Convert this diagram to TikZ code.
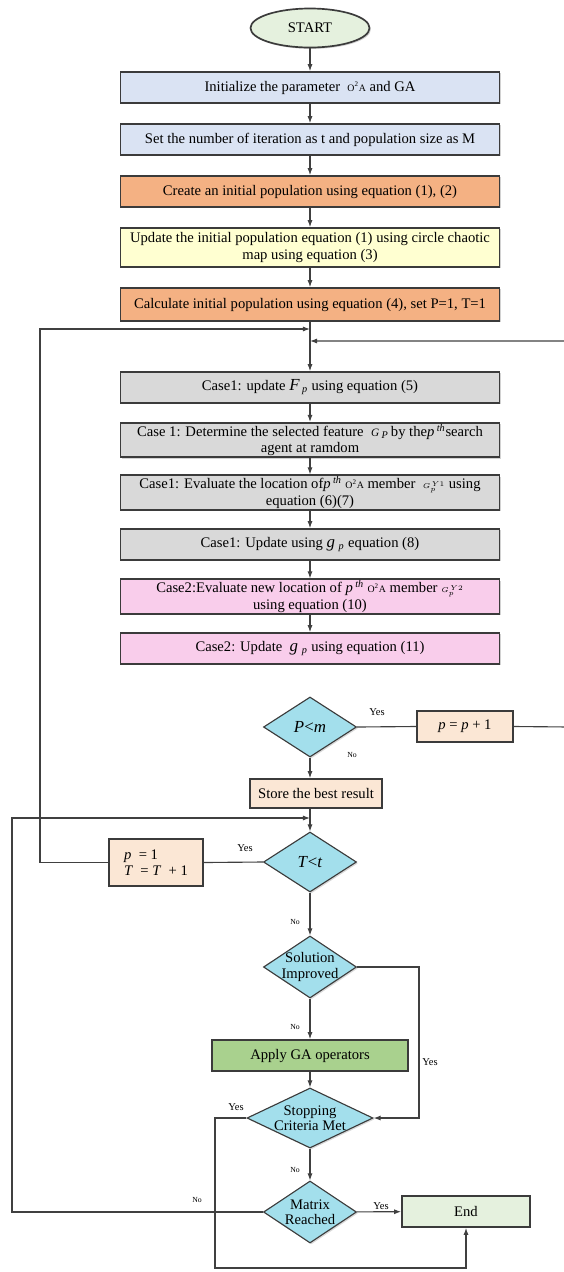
\documentclass[tikz,border=0pt]{standalone}
\usepackage{fontspec}
\setmainfont{Liberation Serif}
\usepackage{xcolor}
\usepackage{tikz}
\usetikzlibrary{arrows.meta, positioning, shapes.geometric, shadows}
\definecolor{bleuciel}{HTML}{DAE3F3}
\definecolor{orangee}{HTML}{F4B183}
\definecolor{jaunepale}{HTML}{FFFFD1}
\definecolor{gris}{HTML}{D9D9D9}
\definecolor{rose}{HTML}{F9CDEB}
\definecolor{turquoise}{HTML}{A3DFEC}
\definecolor{peche}{HTML}{FBE7D5}
\definecolor{vert}{HTML}{A9D18E}
\definecolor{vertpale}{HTML}{E5F1DE}
\definecolor{contour}{HTML}{3B3B3B}
\definecolor{ligne}{HTML}{404040}
\newcommand{\oda}{{\fontsize{7}{7}\selectfont O\textsuperscript{2}A}}
\tikzset{
  boite/.style={draw=contour, line width=1.2pt, fill=#1, minimum width=9.475cm, minimum height=0.775cm,
    inner sep=1pt, align=center, font=\fontsize{10.4}{11.6}\selectfont,
    drop shadow={shadow xshift=1pt, shadow yshift=-1pt, fill=black!35}},
  boite/.default=white,
  losange/.style={diamond, draw=contour, line width=0.8pt, fill=turquoise, inner sep=-5pt, aspect=1.55,
    minimum width=2.325cm, minimum height=1.5cm, align=center, font=\fontsize{10.4}{11}\selectfont,
    drop shadow={shadow xshift=1pt, shadow yshift=-1pt, fill=black!30}},
  etiq/.style={font=\fontsize{7.5}{8}\selectfont, inner sep=0pt},
  etiqpetite/.style={font=\fontsize{5.5}{6}\selectfont, inner sep=0pt},
  fleche/.style={-{Latex[length=5pt, width=3.6pt]}, draw=ligne, line width=0.8pt},
  trait/.style={draw=ligne, line width=0.8pt}
}
\begin{document}
\begin{tikzpicture}[x=0.025cm, y=-0.025cm]
  \useasboundingbox (0,0) rectangle (564,1272);
  \clip (0,0) rectangle (564,1272);
  \node[ellipse, draw=contour, line width=1.2pt, fill=vertpale, minimum width=2.975cm, minimum height=0.975cm,
    inner sep=0pt, font=\fontsize{10.4}{11}\selectfont,
    drop shadow={shadow xshift=1pt, shadow yshift=-1pt, fill=black!35}] (debut) at (310,28) {START};
  \foreach \n/\y/\h/\c/\t in {
    init/87.5/0.775/bleuciel/{Initialize the parameter \ \oda{} and GA},
    iter/139.5/0.775/bleuciel/{Set the number of iteration as t and population size as M},
    creer/191.5/0.775/orangee/{Create an initial population using equation (1), (2)},
    maj/247.5/0.975/jaunepale/{Update the initial population equation (1) using circle chaotic\\map using equation (3)},
    calc/304.5/0.825/orangee/{Calculate initial population using equation (4), set P=1, T=1},
    c1/387.5/0.775/gris/{Case1: update {\large\textit{F}}\,\textsubscript{\textit{p}} using equation (5)},
    c2/440/0.8/gris/{Case 1: Determine the selected feature \ {\footnotesize\textit{G}}\,\textsubscript{\textit{P}}\,by the\textit{p}\,\textsuperscript{\textit{th}}search\\agent at ramdom},
    c3/492.5/0.775/gris/{Case1: Evaluate the location of\textit{p}\,\textsuperscript{\textit{th}}\ \oda{} member \ $\scriptscriptstyle G^{\,Y1}_{p}$ using\\equation (6)(7)},
    c4/544.5/0.775/gris/{Case1: Update using {\large\textit{g}}\ \textsubscript{\textit{p}} equation (8)},
    c5/596.5/0.775/rose/{Case2:Evaluate new location of \textit{p}\,\textsuperscript{\textit{th}}\ \oda{} member $\scriptscriptstyle G^{\,Y2}_{p}$\\using equation (10)},
    c6/648.5/0.775/rose/{Case2: Update \ {\large\textit{g}}\ \textsubscript{\textit{p}} using equation (11)}} {
    \node[boite=\c, minimum height=\h cm] (\n) at (310,\y) {\t};
  }
  \foreach \a/\b in {debut/init, init/iter, iter/creer, creer/maj, maj/calc, calc/c1, c1/c2, c2/c3, c3/c4, c4/c5, c5/c6}
    \draw[fleche] (\a) -- (\b);

  \node[losange, font=\fontsize{12}{13}\selectfont] (pm) at (310,727) {\textit{P}<\textit{m}};
  \node[boite=peche, minimum width=2.4cm] (pinc) at (465,726.5) {\textit{p} = \textit{p} + 1};
  \node[boite=peche, minimum width=3.3cm, minimum height=0.725cm] (store) at (316,793.5) {Store the best result};
  \node[losange, font=\fontsize{12}{13}\selectfont] (tt) at (310,862) {\textit{T}<\textit{t}};
  \node[boite=peche, minimum width=2.35cm, minimum height=1.175cm, align=left] (p1) at (156,862.5)
    {\textit{p} \ = 1\\\textit{T} \ = \textit{T} \ + 1};
  \node[losange, minimum height=1.55cm] (sol) at (310,967) {Solution\\Improved};
  \node[boite=vert, minimum width=4.9cm] (ga) at (310,1055.5) {Apply GA operators};
  \node[losange, aspect=2.1, minimum width=3.15cm] (stop) at (310,1118) {Stopping\\Criteria Met};
  \node[losange, minimum height=1.55cm] (mat) at (310,1212) {Matrix\\Reached};
  \node[boite=vertpale, minimum width=3.2cm] (fin) at (466,1211.5) {End};

  \coordinate (m1) at (310,329);
  \coordinate (m2) at (310,341);
  \coordinate (m3) at (310,818);
  \coordinate (g1) at (40,329);
  \coordinate (g2) at (12,818);
  \coordinate (d1) at (570,727);
  \coordinate (h1) at (419,1118);
  \coordinate (k1) at (215,1268);

  \draw[trait] (pm.east) -- (pinc.west);
  \draw[fleche] (pinc.east) -- (d1) |- (m2);
  \draw[fleche] (pm.south) -- (pm.south |- store.north);
  \draw[fleche] (store.south -| tt.north) -- (tt.north);
  \draw[trait] (tt.west) -- (p1.east);
  \draw[fleche] (p1.west) -| (g1) -- (m1);
  \draw[fleche] (tt) -- (sol);
  \draw[fleche] (sol) -- (ga);
  \draw[fleche] (ga) -- (stop);
  \draw[fleche] (stop) -- (mat);
  \draw[fleche] (mat) -- (fin);
  \draw[fleche] (sol.east) -| (h1) -- (stop.east);
  \draw[fleche] (stop.west) -| (k1) -| (fin.south);
  \draw[fleche] (mat.west) -| (g2) -- (m3);

  \node[etiq] (oui1) at (377,712) {Yes};
  \node[etiqpetite] (non1) at (352,755) {No};
  \node[etiq] (oui2) at (245,848) {Yes};
  \node[etiqpetite] (non2) at (295,922) {No};
  \node[etiqpetite] (non3) at (295,1027) {No};
  \node[etiq] (oui3) at (430,1062) {Yes};
  \node[etiq] (oui4) at (236,1107) {Yes};
  \node[etiqpetite] (non4) at (295,1170) {No};
  \node[etiqpetite] (non5) at (197,1200) {No};
  \node[etiq] (oui5) at (381,1206) {Yes};
\end{tikzpicture}
\end{document}
